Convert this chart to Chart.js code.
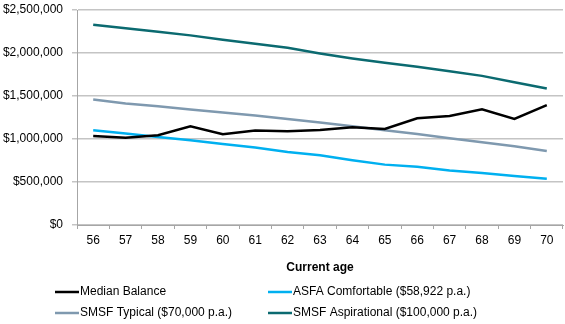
<!DOCTYPE html>
<html>
<head>
<meta charset="utf-8">
<script src="https://cdn.jsdelivr.net/npm/chart.js@4"></script>
<style>
  html, body { margin: 0; padding: 0; background: #fff; }
  #wrap { width: 565px; height: 324px; position: relative; }
</style>
</head>
<body>
<div id="wrap"><canvas id="myChart"></canvas></div>
<script>
const ages = ["56", "57", "58", "59", "60", "61", "62", "63", "64", "65", "66", "67", "68", "69", "70"];
const medianBalance = [1035000, 1016000, 1043000, 1148000, 1055000, 1098000, 1090000, 1105000, 1136000, 1117000, 1241000, 1268000, 1346000, 1233000, 1393000];
const asfaComfortable = [1101000, 1063000, 1023000, 985000, 942000, 900000, 848000, 810000, 752000, 702000, 678000, 635000, 604000, 569000, 538000];
const smsfTypical = [1459000, 1413000, 1381000, 1343000, 1308000, 1273000, 1233000, 1191000, 1148000, 1101000, 1058000, 1008000, 962000, 915000, 860000];
const smsfAspirational = [2329000, 2287000, 2247000, 2205000, 2154000, 2107000, 2061000, 1995000, 1937000, 1886000, 1839000, 1789000, 1734000, 1661000, 1587000];
const yTicks = [0, 500000, 1000000, 1500000, 2000000, 2500000];

const FONT = "'Liberation Sans', Arial, sans-serif";

function series(label, data, color) {
  return {
    label: label,
    data: data,
    borderColor: color,
    backgroundColor: color,
    borderWidth: 2.5,
    pointRadius: 0,
    tension: 0,
    fill: false,
  };
}

// two-column legend under the axis title
const gridLegend = {
  id: "gridLegend",
  afterDraw(chart) {
    const ctx = chart.ctx;
    const cols = [55, 268];
    const rows = [292, 313];
    ctx.save();
    ctx.font = "12px " + FONT;
    ctx.textBaseline = "middle";
    ctx.fillStyle = "#000";
    chart.data.datasets.forEach((ds, i) => {
      const x = cols[i % 2];
      const y = rows[Math.floor(i / 2)];
      ctx.strokeStyle = ds.borderColor;
      ctx.lineWidth = 2.5;
      ctx.beginPath();
      ctx.moveTo(x, y);
      ctx.lineTo(x + 24, y);
      ctx.stroke();
      ctx.fillText(ds.label, x + 25, y);
    });
    ctx.restore();
  },
};

const ctx = document.getElementById("myChart").getContext("2d");
const myChart = new Chart(ctx, {
  type: "line",
  data: {
    labels: ages,
    datasets: [
      series("Median Balance", medianBalance, "#000000"),
      series("ASFA Comfortable ($58,922 p.a.)", asfaComfortable, "#00B0F0"),
      series("SMSF Typical ($70,000 p.a.)", smsfTypical, "#7F99AF"),
      series("SMSF Aspirational ($100,000 p.a.)", smsfAspirational, "#0B6A70"),
    ],
  },
  options: {
    responsive: true,
    maintainAspectRatio: false,
    animation: false,
    layout: { padding: { top: 10, right: 2, bottom: 48, left: 0 } },
    plugins: {
      legend: { display: false },
      tooltip: { enabled: false },
    },
    scales: {
      x: {
        offset: true,
        grid: {
          offset: true,
          drawOnChartArea: false,
          drawTicks: true,
          tickLength: 4,
          color: "#A6A6A6",
        },
        border: { display: true, color: "#A6A6A6", width: 1 },
        ticks: {
          color: "#000",
          font: { family: FONT, size: 12 },
          padding: 4,
          maxRotation: 0,
          autoSkip: false,
        },
        title: {
          display: true,
          text: "Current age",
          color: "#000",
          font: { family: FONT, size: 12, weight: "bold" },
          padding: { top: 4, bottom: 1 },
        },
        afterFit(scale) { scale.height = 51; },
      },
      y: {
        min: 0,
        max: 2500000,
        afterBuildTicks(scale) {
          scale.ticks = yTicks.map((v) => ({ value: v }));
        },
        grid: {
          color: "#C4C4C4",
          lineWidth: 1.5,
          drawTicks: true,
          tickLength: 5,
        },
        border: { display: true, color: "#A6A6A6", width: 1 },
        ticks: {
          color: "#000",
          font: { family: FONT, size: 12 },
          padding: 9,
          callback: (v) => "$" + Number(v).toLocaleString("en-US"),
        },
        afterFit(scale) {
          scale.width = 77;
          scale.paddingTop = 0;
          scale.paddingBottom = 0;
        },
      },
    },
  },
  plugins: [gridLegend],
});
</script>
</body>
</html>
